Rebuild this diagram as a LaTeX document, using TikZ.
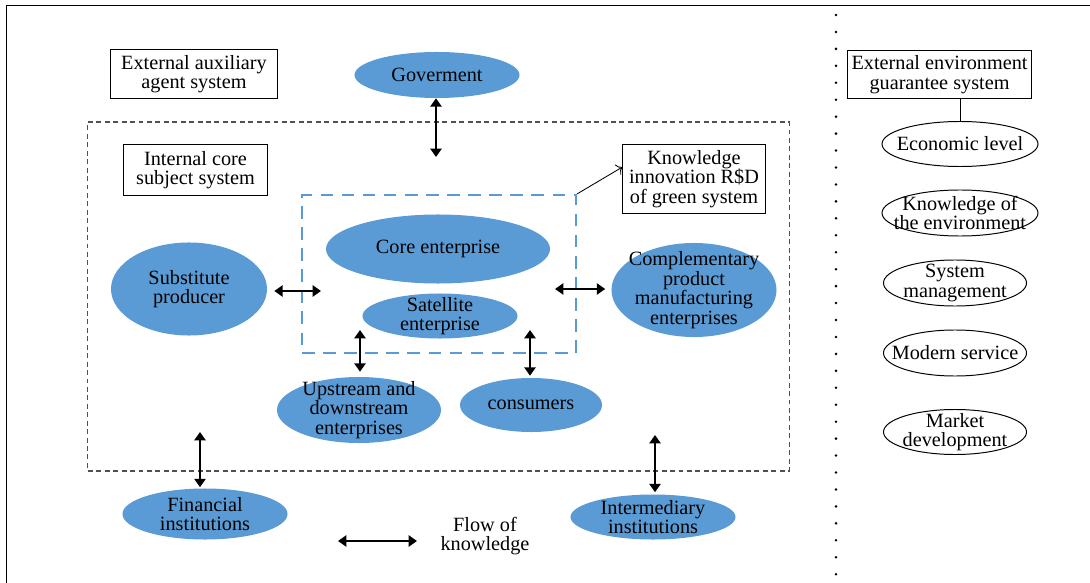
\documentclass[tikz,border=0pt]{standalone}
\usepackage{fontspec}
\setmainfont{Liberation Serif}
\usetikzlibrary{shapes.geometric, arrows.meta, positioning}
\definecolor{nodeblue}{RGB}{91,155,213}
\definecolor{framegray}{RGB}{80,80,80}

\begin{document}
\begin{tikzpicture}[x=0.025cm, y=-0.025cm,
    font=\fontsize{14.4}{13.9}\selectfont,
    blob/.style={ellipse, fill=nodeblue, inner sep=0pt},
    envblob/.style={ellipse, draw, line width=0.7pt, inner sep=0pt},
    titlebox/.style={draw, line width=0.7pt, align=center, inner sep=0pt},
    lbl/.style={align=center},
    flow/.style={line width=1.5pt, arrows={Triangle[width=8pt,length=6pt]-Triangle[width=8pt,length=6pt]}}]
    \useasboundingbox (0,0) rectangle (1090,583);

    % Frame and separator
    \draw[line width=0.7pt] (6,583) -- (6,5) -- (1090,5);
    \draw[line width=2pt, line cap=round, dash pattern=on 0pt off 12.05pt] (836,15) -- (836,583);

    % Subsystems
    \node[draw=framegray, line width=0.8pt, dash pattern=on 3.5pt off 2.5pt,
          minimum width=17.525cm, minimum height=8.725cm] (coresys) at (438.5,296.5) {};
    \node[draw=nodeblue, line width=1.5pt, dash pattern=on 9pt off 6pt,
          minimum width=6.85cm, minimum height=3.95cm] (green) at (439,274) {};

    \node[titlebox, minimum width=4.15cm, minimum height=1.225cm] (auxbox) at (194,74)
        {External auxiliary\\agent system};
    \node[titlebox, minimum width=3.575cm, minimum height=1.25cm] (corebox) at (195.5,170)
        {Internal core\\subject system};
    \node[titlebox, minimum width=3.55cm, minimum height=1.7cm] (know) at (694,179)
        {Knowledge\\innovation R\$D\\of green system};
    \draw[line width=0.6pt, -{To[length=4pt]}] (green.north east) -- ([yshift=0.3cm]know.west);

    % Agents
    \node[blob, minimum width=4.125cm, minimum height=1.15cm,
          label={[lbl]center:Goverment}] (gov) at (437,75) {};
    \node[blob, minimum width=5.6cm, minimum height=1.725cm,
          label={[lbl]center:Core enterprise}] (core) at (438,249) {};
    \node[blob, minimum width=3.875cm, minimum height=1.125cm,
          label={[lbl]center:{Satellite\\enterprise}}] (sat) at (440,316) {};
    \node[blob, minimum width=3.9cm, minimum height=2.325cm,
          label={[lbl]center:{Substitute\\producer}}] (sub) at (189,289) {};
    \node[blob, minimum width=4.125cm, minimum height=2.35cm,
          label={[lbl]center:{Complementary\\product\\manufacturing\\enterprises}}] (comp) at (694,290) {};
    \node[blob, minimum width=4.1cm, minimum height=1.65cm,
          label={[lbl]center:{Upstream and\\downstream\\enterprises}}] (up) at (359,410) {};
    \node[blob, minimum width=3.55cm, minimum height=1.35cm,
          label={[lbl]center:consumers}] (cons) at (531,405) {};
    \node[blob, minimum width=4.125cm, minimum height=1.275cm,
          label={[lbl]center:{Financial\\institutions}}] (fin) at (205,514) {};
    \node[blob, minimum width=4.125cm, minimum height=1.125cm,
          label={[lbl]center:{Intermediary\\institutions}}] (inter) at (653,517) {};

    % Knowledge flows
    \coordinate (govdown) at (436,157);
    \coordinate (subright) at (321,291);
    \coordinate (compleft) at (555,289);
    \coordinate (satleft) at (360,330);
    \coordinate (satright) at (530,330);
    \coordinate (finup) at (200,432);
    \coordinate (interup) at (655,435);
    \draw[flow] (govdown |- gov.south) -- (govdown);
    \draw[flow, shorten <=0.175cm] (subright -| sub.east) -- (subright);
    \draw[flow, shorten >=0.15cm] (compleft) -- (compleft -| comp.west);
    \draw[flow, shorten >=0.125cm] (satleft) -- (satleft |- up.north);
    \draw[flow, shorten >=0.05cm] (satright) -- (satright |- cons.north);
    \draw[flow, shorten >=0.025cm] (finup) -- (finup |- fin.north);
    \draw[flow, shorten >=0.05cm] (interup) -- (interup |- inter.north);

    % Legend
    \coordinate (legleft) at (338,541);
    \coordinate (legright) at (417,541);
    \draw[flow] (legleft) -- (legright);
    \node[lbl] (legtext) at (485,536) {Flow of\\knowledge};

    % External environment
    \node[titlebox, minimum width=4.575cm, minimum height=1.175cm] (envbox) at (939.5,74.5)
        {External environment\\guarantee system};
    \node[envblob, minimum width=3.9cm, minimum height=1.125cm,
          label={[lbl]center:Economic level}] (econ) at (960,144) {};
    \node[envblob, minimum width=3.9cm, minimum height=1.15cm,
          label={[lbl]center:{Knowledge of\\the environment}}] (envknow) at (960,213) {};
    \node[envblob, minimum width=3.575cm, minimum height=1.15cm,
          label={[lbl]center:{System\\management}}] (sysman) at (955,283) {};
    \node[envblob, minimum width=3.575cm, minimum height=1.15cm,
          label={[lbl]center:Modern service}] (modern) at (955,353) {};
    \node[envblob, minimum width=3.575cm, minimum height=1.125cm,
          label={[lbl]center:{Market\\development}}] (market) at (955,432) {};
    \draw[line width=0.7pt] (econ.north) -- (econ.north |- envbox.south);
\end{tikzpicture}
\end{document}
